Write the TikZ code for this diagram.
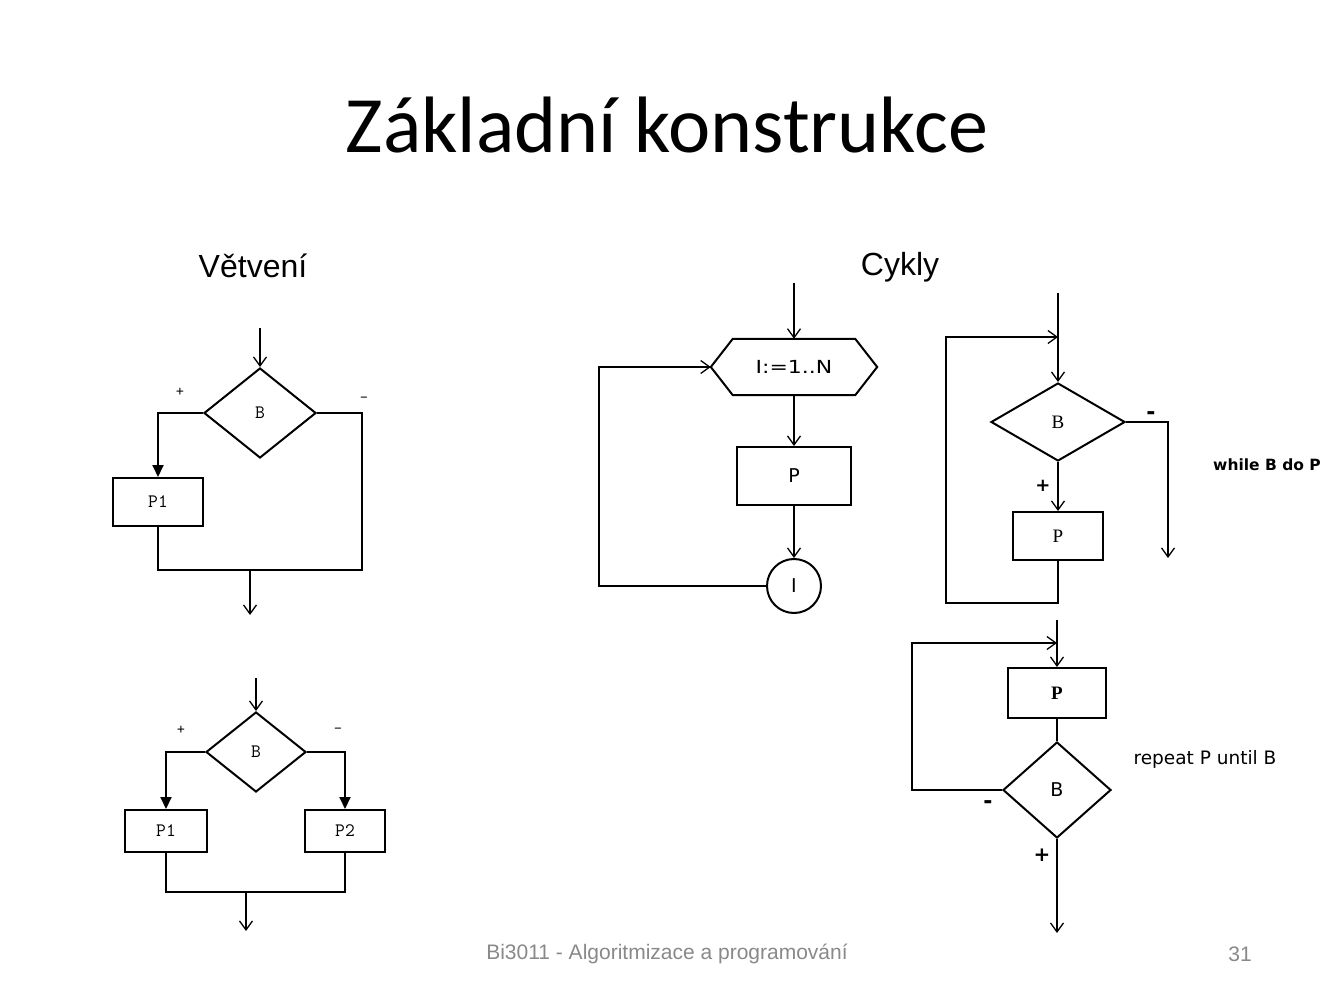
\documentclass[tikz,border=0pt]{standalone}
\usepackage{fontspec}
\setmainfont{Liberation Sans}
\newfontfamily\titlefont{Carlito}
\newfontfamily\serifont{Liberation Serif}
\newfontfamily\dvs{DejaVu Sans}
\usetikzlibrary{arrows.meta,shapes.geometric}
\definecolor{footgray}{RGB}{137,137,137}
\tikzset{
  ln/.style={line width=2pt, line join=miter},
  oarr/.style={ln, -{Straight Barb[length=9pt,width=13pt,line width=1.3pt]}},
  farr/.style={ln, -{Triangle[length=12pt,width=11pt]}},
  dia/.style={draw, ln, shape=diamond, inner sep=0pt},
  boxs/.style={draw, ln, rectangle, inner sep=0pt},
  mono/.style={font=\ttfamily\fontsize{19}{21}\selectfont},
  smallmono/.style={font=\ttfamily\fontsize{16}{18}\selectfont},
  dv/.style={font=\dvs\fontsize{19}{21}\selectfont},
}
\begin{document}
\begin{tikzpicture}[x=1pt,y=-1pt]
\useasboundingbox (0,0) rectangle (1334,1000);
\fill[white] (0,0) rectangle (1334,1000);

% titles
\node[font=\titlefont\fontsize{80}{96}\selectfont] (title) at (667,125) {Základní konstrukce};
\node[font=\fontsize{32}{38}\selectfont] (vt) at (253,266) {Větvení};
\node[font=\fontsize{32}{38}\selectfont] (cy) at (900,267) {Cykly};
\node[font=\fontsize{21}{25}\selectfont, text=footgray] (foot) at (667,954) {Bi3011 - Algoritmizace a programování};
\node[font=\fontsize{21}{25}\selectfont, text=footgray] (pg) at (1240,954) {31};

% ---------- branch 1 ----------
\node[dia, minimum width=112pt, minimum height=90pt, mono] (b1) at (260,413) {B};
\node[boxs, minimum width=90pt, minimum height=48pt, mono] (p1) at (158,502) {P1};
\coordinate (in1) at (260,328);
\coordinate (r1) at (362,570);
\coordinate (j1) at (250,570);
\coordinate (o1) at (250,615);
\draw[oarr] (in1) -- (b1.north);
\draw[farr] (b1.west) -| (p1.north);
\draw[ln] (p1.south) |- (r1) |- (b1.east);
\draw[oarr] (j1) -- (o1);
\node[smallmono] (pl1) at (180,392) {+};
\node[smallmono] (mi1) at (364,400) {-};

% ---------- branch 2 ----------
\node[dia, minimum width=100pt, minimum height=80pt, mono] (b2) at (256,752) {B};
\node[boxs, minimum width=82pt, minimum height=42pt, mono] (p21) at (166,831) {P1};
\node[boxs, minimum width=80pt, minimum height=42pt, mono] (p22) at (345,831) {P2};
\coordinate (in2) at (256,678);
\coordinate (j2) at (246,892);
\coordinate (o2) at (246,931);
\draw[oarr] (in2) -- (b2.north);
\draw[farr] (b2.west) -| (p21.north);
\draw[farr] (b2.east) -| (p22.north);
\draw[ln] (p21.south) |- (j2) -| (p22.south);
\draw[oarr] (j2) -- (o2);
\node[smallmono] (pl2) at (181,730) {+};
\node[smallmono] (mi2) at (338,731) {-};

% ---------- for loop ----------
\node[minimum width=166pt, minimum height=56pt, inner sep=0pt] (hx) at (794,367) {\dvs\fontsize{18}{20}\selectfont\scalebox{1.22}[1]{I:=1..N}};
\draw[ln] (hx.west) -- ([xshift=22pt]hx.north west) -- ([xshift=-22pt]hx.north east) -- (hx.east) -- ([xshift=-22pt]hx.south east) -- ([xshift=22pt]hx.south west) -- cycle;
\node[boxs, minimum width=114pt, minimum height=58pt, dv] (pf) at (794,476) {P};
\node[draw, ln, circle, minimum size=54pt, inner sep=0pt, dv] (ci) at (794,586) {I};
\coordinate (inf) at (794,283);
\coordinate (lf) at (599,586);
\draw[oarr] (inf) -- (hx.north);
\draw[oarr] (hx.south) -- (pf.north);
\draw[oarr] (pf.south) -- (ci.north);
\draw[oarr] (ci.west) -- (lf) |- (hx.west);

% ---------- while loop ----------
\node[dia, minimum width=134pt, minimum height=78pt, font=\serifont\fontsize{19}{21}\selectfont] (bw) at (1058,422) {B};
\node[boxs, minimum width=90pt, minimum height=48pt, font=\serifont\fontsize{19}{21}\selectfont] (pw) at (1058,536) {P};
\coordinate (inw) at (1058,293);
\coordinate (jw) at (1058,337);
\coordinate (bl) at (1058,603);
\coordinate (lw) at (946,603);
\coordinate (rw) at (1168,422);
\coordinate (ow) at (1168,558);
\draw[ln] (inw) -- (jw);
\draw[oarr] (jw) -- (bw.north);
\draw[oarr] (bw.south) -- (pw.north);
\draw[oarr] (pw.south) -- (bl) -- (lw) |- (jw);
\draw[oarr] (bw.east) -- (rw) -- (ow);
\node[font=\dvs\bfseries\fontsize{22}{24}\selectfont] (miw) at (1151,416) {-};
\node[font=\dvs\bfseries\fontsize{18}{20}\selectfont] (plw) at (1043,486) {+};
\node[font=\dvs\bfseries\fontsize{15.5}{18}\selectfont] (tw) at (1267,465) {while B do P};

% ---------- repeat loop ----------
\node[boxs, minimum width=98pt, minimum height=50pt, font=\serifont\bfseries\fontsize{19}{21}\selectfont] (pr) at (1057,693) {P};
\node[dia, minimum width=108pt, minimum height=96pt, dv] (br) at (1057,790) {B};
\coordinate (inr) at (1057,620);
\coordinate (jr) at (1057,643);
\coordinate (lr) at (912,790);
\coordinate (outr) at (1057,933);
\draw[ln] (inr) -- (jr);
\draw[oarr] (jr) -- (pr.north);
\draw[ln] (pr.south) -- (br.north);
\draw[oarr] (br.west) -- (lr) |- (jr);
\draw[oarr] (br.south) -- (outr);
\node[font=\dvs\bfseries\fontsize{22}{24}\selectfont] (mir) at (988,805) {-};
\node[font=\dvs\bfseries\fontsize{20}{22}\selectfont] (plr) at (1042,855) {+};
\node[font=\dvs\fontsize{18.5}{21}\selectfont] (tr) at (1205,759) {repeat P until B};
\end{tikzpicture}
\end{document}
